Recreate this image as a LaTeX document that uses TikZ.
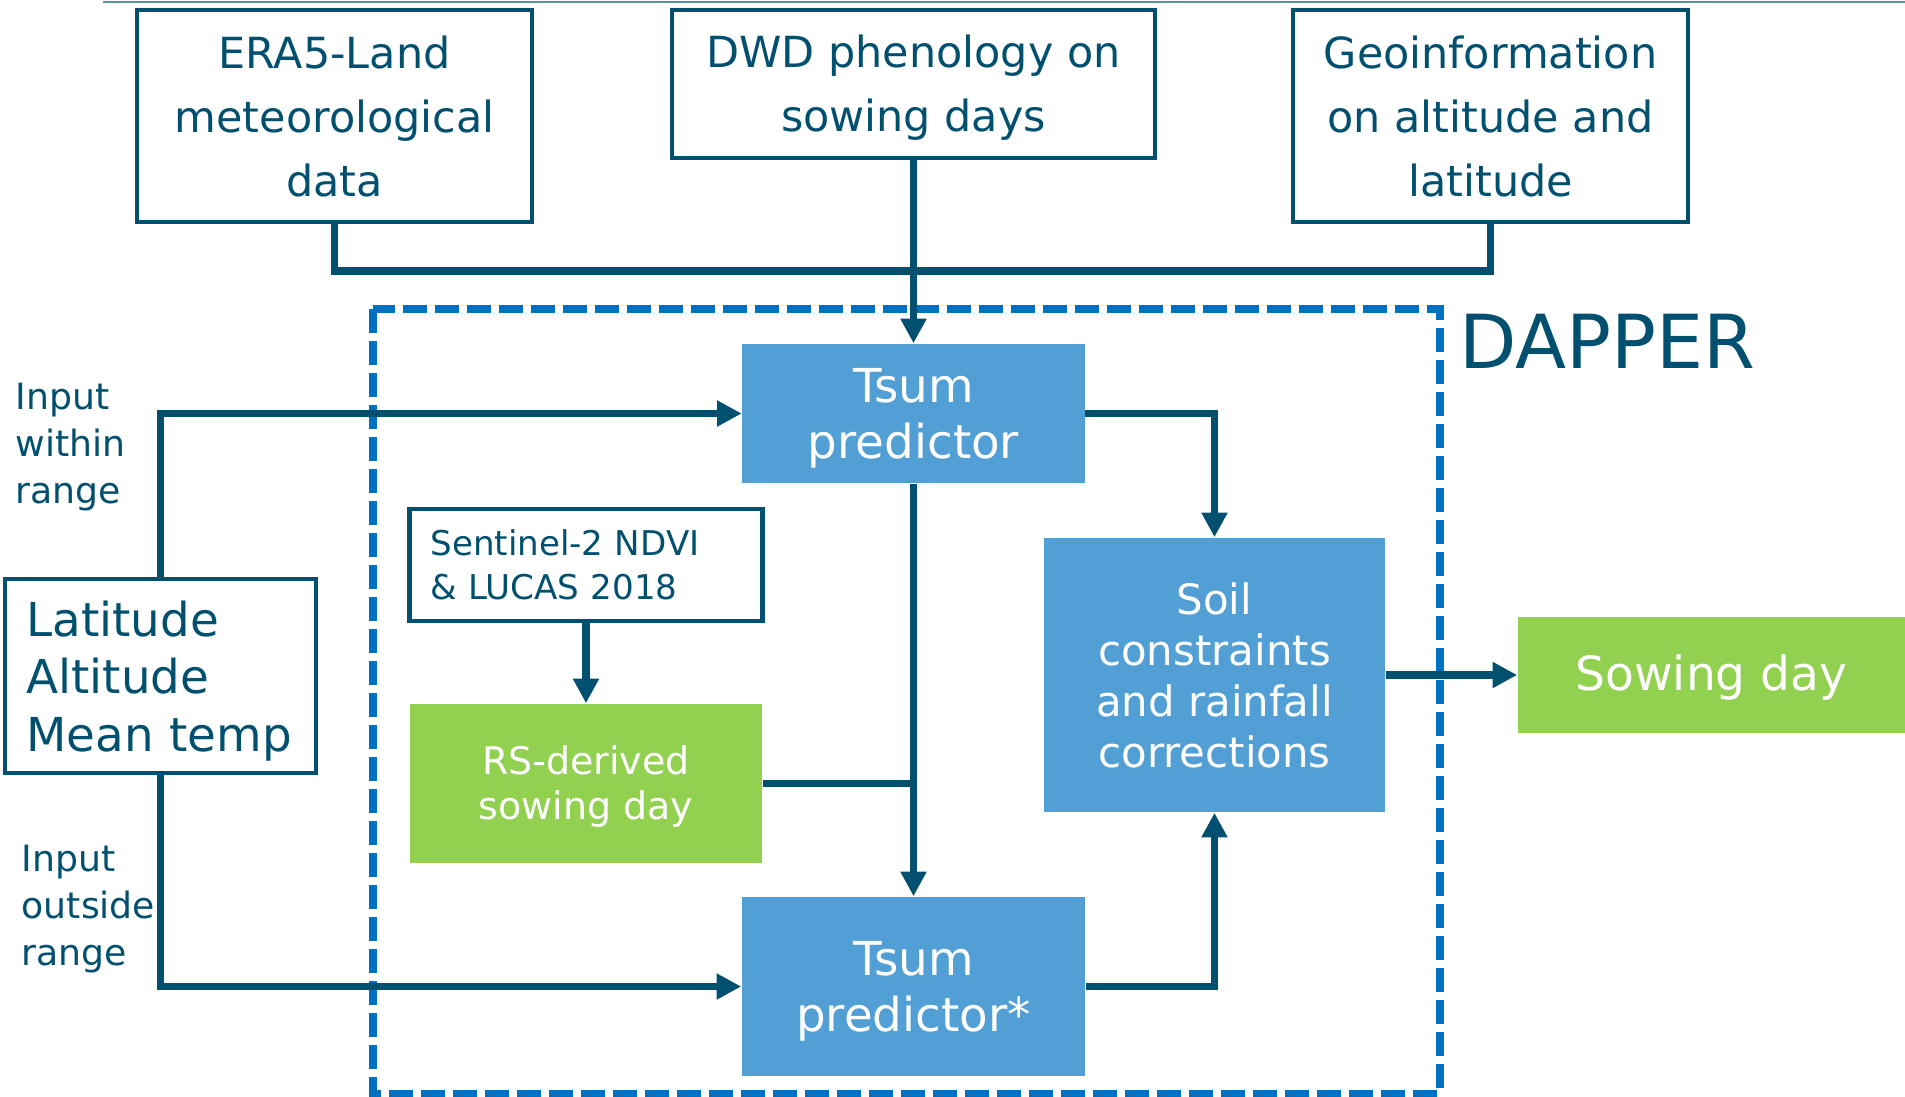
\documentclass[tikz,border=0pt]{standalone}
\usepackage{fontspec}
\setmainfont{DejaVu Sans}
\usetikzlibrary{arrows.meta}
\definecolor{darkteal}{HTML}{02506F}
\definecolor{boxblue}{HTML}{529FD6}
\definecolor{boxgreen}{HTML}{92D050}
\definecolor{dashblue}{HTML}{0070C0}
\definecolor{rulegray}{HTML}{5B8FA6}

\begin{document}
\begin{tikzpicture}[x=0.01cm, y=-0.01cm, >={Triangle[length=7pt,width=7pt]}]
\tikzstyle{src_style} = [rectangle, draw=darkteal, line width=1.2pt, fill=white, text=darkteal, inner sep=0pt, align=center, font=\fontsize{12.2}{18.2}\selectfont]
\tikzstyle{blue_style} = [rectangle, fill=boxblue, text=white, inner sep=0pt, align=center]
\tikzstyle{green_style} = [rectangle, fill=boxgreen, text=white, inner sep=0pt, align=center]
\tikzstyle{edge_style} = [draw=darkteal, line width=2pt]
\tikzstyle{label_style} = [text=darkteal, inner sep=0pt, align=left, font=\fontsize{10.3}{13.4}\selectfont]

\useasboundingbox (0,0) rectangle (1905,1096);
\draw[rulegray, line width=0.8pt] (103,2) -- (1905,2);
\draw[dashblue, line width=2pt, dash pattern=on 6.8pt off 2.3pt] (373,309) rectangle (1440,1093);

\node[src_style, minimum width=3.95cm, minimum height=2.12cm] (era) at (334.5,116) {ERA5-Land\\meteorological\\data};
\node[src_style, minimum width=4.82cm, minimum height=1.48cm, text depth=0.4pt] (dwd) at (913.5,84) {DWD phenology on\\sowing days};
\node[src_style, minimum width=3.95cm, minimum height=2.12cm] (geo) at (1490.5,116) {Geoinformation\\on altitude and\\latitude};

\node[src_style, align=left, text width=2.68cm, inner xsep=0.215cm, minimum height=1.94cm, text height=12.9pt, font=\fontsize{13.3}{16.4}\selectfont] (lat) at (160.5,676) {Latitude\\Altitude\\Mean temp};
\node[src_style, align=left, text width=3.11cm, inner xsep=0.21cm, minimum height=1.12cm, font=\fontsize{9.7}{12.5}\selectfont] (senti) at (586,565) {Sentinel-2 NDVI\\\& LUCAS 2018};

\node[blue_style, minimum width=3.42cm, minimum height=1.39cm, text depth=0pt, font=\fontsize{13.3}{15.9}\selectfont] (tsum) at (913.5,413.5) {Tsum\\predictor};
\node[blue_style, minimum width=3.43cm, minimum height=1.79cm, text depth=0pt, font=\fontsize{13.3}{15.9}\selectfont] (tsumstar) at (913.5,986.5) {Tsum\\predictor*};
\node[blue_style, minimum width=3.41cm, minimum height=2.74cm, font=\fontsize{11.9}{14.5}\selectfont] (soil) at (1214.5,675) {Soil\\constraints\\and rainfall\\corrections};
\node[green_style, minimum width=3.52cm, minimum height=1.59cm, text depth=0.3pt, font=\fontsize{10.8}{12.8}\selectfont] (rs) at (586,783.5) {RS-derived\\sowing day};
\node[green_style, minimum width=3.87cm, minimum height=1.15cm, text height=12.2pt, text depth=3.2pt, font=\fontsize{13.4}{16}\selectfont] (sow) at (1711.5,675) {Sowing day};

\node[text=darkteal, inner sep=0pt, anchor=base west, font=\fontsize{21.2}{24}\selectfont] (dapper) at (1459,368) {DAPPER};
\node[label_style, anchor=west] (within) at (15,447) {Input\\within\\range};
\node[label_style, anchor=west] (outside) at (21,909) {Input\\outside\\range};

\coordinate (bus) at (913.5,271);
\draw[edge_style] (era.south) |- (bus) -| (geo.south);
\draw[edge_style, ->] (dwd.south) -- (tsum.north);
\draw[edge_style, ->] (lat.north) |- (tsum.west);
\draw[edge_style, ->] (lat.south) |- (tsumstar.west);
\draw[edge_style, ->] (tsum.east) -| (soil.north);
\draw[edge_style, ->] (tsumstar.east) -| (soil.south);
\draw[edge_style, ->] (tsum.south) -- (tsumstar.north);
\draw[edge_style, ->] (senti.south) -- (rs.north);
\draw[edge_style] (rs.east) -- (rs.east -| tsum.south);
\draw[edge_style, ->] (soil.east) -- (sow.west);
\end{tikzpicture}
\end{document}
